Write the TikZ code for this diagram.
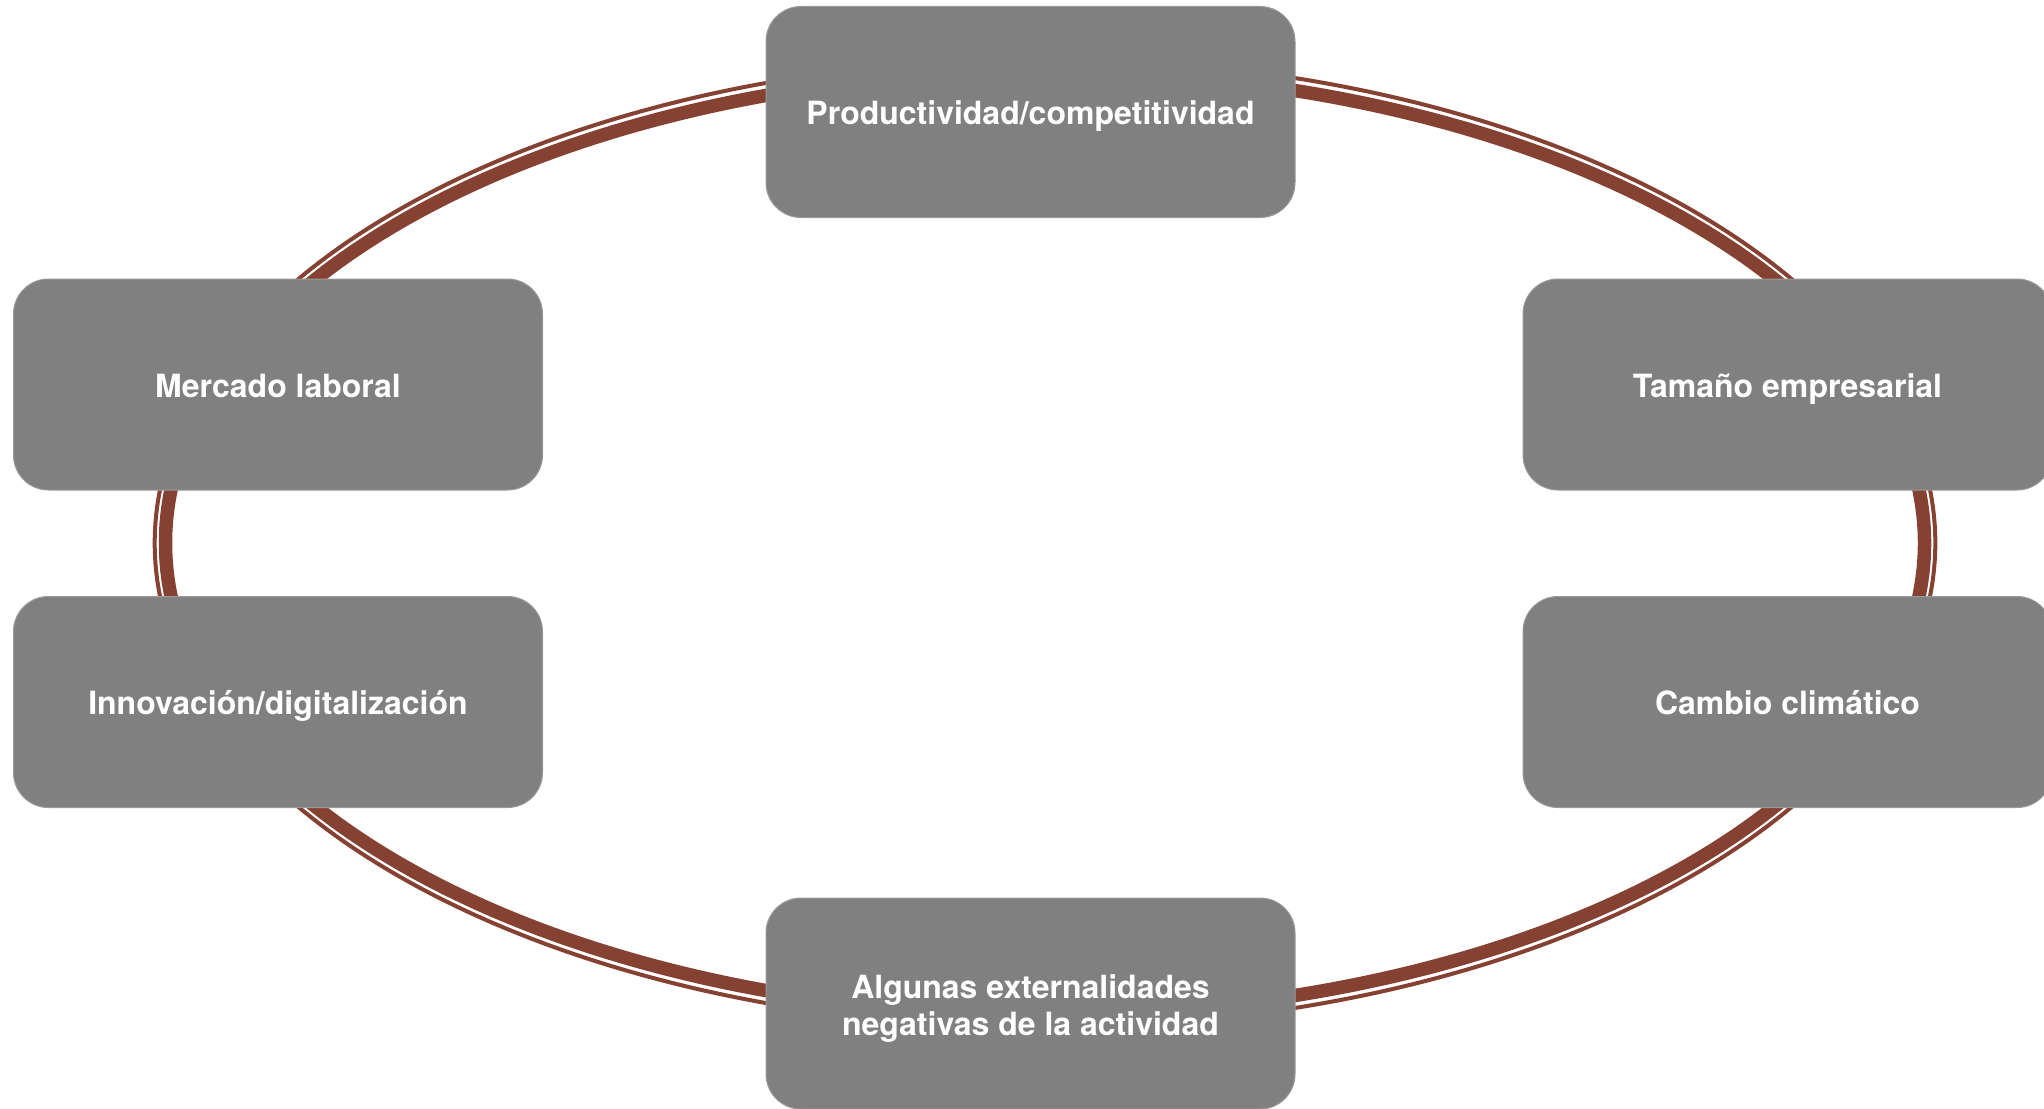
\documentclass[tikz,border=0pt]{standalone}
\usepackage{fontspec}
\setmainfont{TeX Gyre Heros}
\definecolor{ring}{RGB}{133,65,50}
\definecolor{boxgray}{RGB}{128,128,128}
\begin{document}
\begin{tikzpicture}[x=1pt,y=-1pt,
  topicbox/.style={rectangle, rounded corners=35pt, fill=boxgray,
    draw=boxgray!80!white, line width=1pt,
    minimum width=529pt, minimum height=211pt, inner sep=0pt,
    text=white, font=\fontsize{32}{37.7}\selectfont\bfseries,
    text height=25pt, text depth=0pt},
  thinring/.style={draw=ring, line width=4pt},
  thickring/.style={draw=ring, line width=13.5pt}]
\useasboundingbox (0,0) rectangle (2044,1108);
\clip (0,0) rectangle (2044,1108);
\fill[white] (0,0) rectangle (2044,1108);
% double ring
\path[thinring] (1045,543) ellipse [x radius=890.3pt, y radius=484.3pt];
\path[thickring] (1045,543) ellipse [x radius=879.5pt, y radius=471.8pt];
% topics
\node[topicbox] (prod) at (1030.5,112) {Productividad/competitividad};
\node[topicbox] (merc) at (278,384.5) {Mercado laboral};
\node[topicbox] (tam) at (1787.5,384.5) {Tamaño empresarial};
\node[topicbox] (innov) at (278,702) {Innovación/digitalización};
\node[topicbox] (clim) at (1787.5,702) {Cambio climático};
\node[topicbox, align=center, text height=64.4pt, text depth=0pt] (ext) at (1030.5,1003.5) {Algunas externalidades\\negativas de la actividad};
\end{tikzpicture}
\end{document}
